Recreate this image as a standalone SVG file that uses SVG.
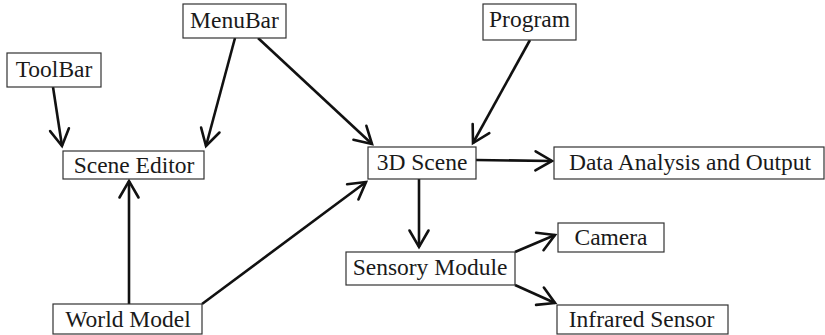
<svg xmlns="http://www.w3.org/2000/svg" width="825" height="335" viewBox="0 0 825 335">
<style>
.box{fill:#fff;stroke:#333;stroke-width:1.2}
.lbl{font-family:"Liberation Serif","Times New Roman",serif;font-size:23.5px;fill:#1a1a1a;text-anchor:middle}
.edge{stroke:#111;stroke-width:2.6;fill:none;marker-end:url(#arr)}
</style>
<defs>
<marker id="arr" markerUnits="userSpaceOnUse" markerWidth="40" markerHeight="40" refX="0" refY="0" viewBox="-20 -20 40 40" orient="auto">
<path d="M-16.5,-9.5 L0,0 L-16.5,9.5" fill="none" stroke="#111" stroke-width="2.6" stroke-linecap="round" stroke-linejoin="miter"/>
</marker>
</defs>
<rect width="825" height="335" fill="#fff"/>
<g id="connectors">
<line class="edge" x1="53" y1="87" x2="62" y2="146"/>
<line class="edge" x1="235" y1="38" x2="206" y2="146"/>
<line class="edge" x1="258" y1="38" x2="372" y2="144"/>
<line class="edge" x1="530" y1="40" x2="473" y2="143"/>
<line class="edge" x1="476" y1="160" x2="552" y2="161"/>
<line class="edge" x1="419" y1="179" x2="419" y2="247"/>
<line class="edge" x1="515" y1="252" x2="555" y2="235"/>
<line class="edge" x1="515" y1="285" x2="555" y2="303"/>
<line class="edge" x1="129" y1="304" x2="129" y2="181"/>
<line class="edge" x1="202" y1="304" x2="366" y2="182"/>
</g>
<g id="menubar"><rect class="box" x="183" y="4" width="103" height="34"/><text class="lbl" x="234.5" y="28">MenuBar</text></g>
<g id="toolbar"><rect class="box" x="7" y="53" width="94" height="34"/><text class="lbl" x="54" y="77">ToolBar</text></g>
<g id="program"><rect class="box" x="483" y="4" width="93" height="36"/><text class="lbl" x="529.5" y="27">Program</text></g>
<g id="scene-editor"><rect class="box" x="63" y="151" width="141" height="28"/><text class="lbl" x="134" y="173">Scene Editor</text></g>
<g id="scene3d"><rect class="box" x="368" y="147" width="108" height="32"/><text class="lbl" x="422" y="170">3D Scene</text></g>
<g id="data-analysis"><rect class="box" x="554" y="147" width="270" height="32"/><text class="lbl" x="690" y="170">Data Analysis and Output</text></g>
<g id="sensory-module"><rect class="box" x="346" y="252" width="169" height="33"/><text class="lbl" x="430" y="275">Sensory Module</text></g>
<g id="camera"><rect class="box" x="558" y="223" width="106" height="29"/><text class="lbl" x="611" y="245">Camera</text></g>
<g id="infrared-sensor"><rect class="box" x="557" y="305" width="171" height="29"/><text class="lbl" x="641.5" y="327">Infrared Sensor</text></g>
<g id="world-model"><rect class="box" x="53" y="304" width="149" height="30"/><text class="lbl" x="128" y="327">World Model</text></g>
</svg>
